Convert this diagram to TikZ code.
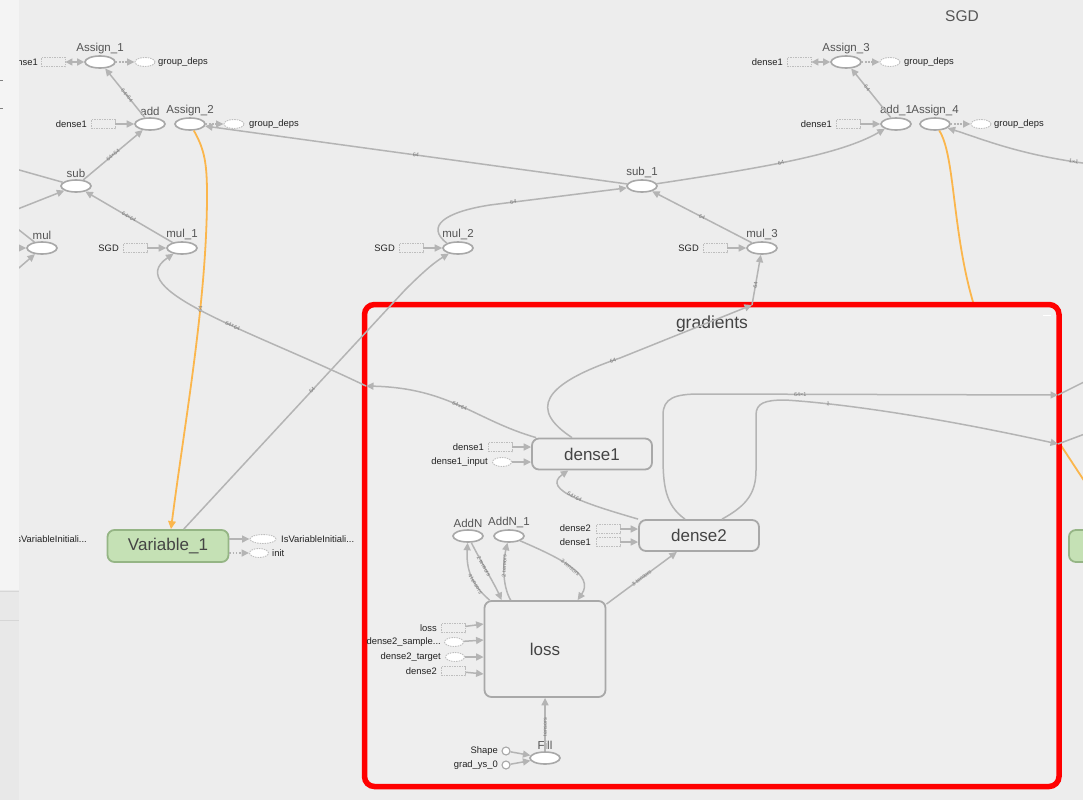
\documentclass[tikz,border=0pt]{standalone}
\usepackage{fontspec}
\setmainfont{Liberation Sans}
\usetikzlibrary{shapes.geometric,arrows.meta}
\definecolor{bg}{HTML}{EDEDED}
\definecolor{gfill}{HTML}{EEEEEE}
\definecolor{ecol}{HTML}{B4B4B4}
\definecolor{ncol}{HTML}{A8A8A8}
\definecolor{dcol}{HTML}{BEBEBE}
\definecolor{orng}{HTML}{FBB64C}
\definecolor{grfill}{HTML}{C5E1B5}
\definecolor{grdraw}{HTML}{95B585}
\definecolor{txt}{HTML}{222222}
\definecolor{lbl}{HTML}{555555}
\definecolor{darktxt}{HTML}{444444}
\definecolor{elabcol}{HTML}{7A7A7A}
\definecolor{redb}{HTML}{FF0000}
\definecolor{leftc}{HTML}{F4F4F4}
\definecolor{left2}{HTML}{E8E8E8}
\definecolor{linec}{HTML}{D6D6D6}
\begin{document}
\begin{tikzpicture}[x=1pt,y=-1pt,
  op/.style={ellipse, draw=ncol, line width=1.6pt, fill=white, minimum width=30pt, minimum height=12pt, inner sep=0pt},
  oplbl/.style={font=\fontsize{11.5}{12}\selectfont, text=lbl, inner sep=1.5pt},
  deprect/.style={rectangle, draw=dcol, dash pattern=on 1.5pt off 1pt, line width=0.9pt, minimum width=24pt, minimum height=9pt, inner sep=0pt},
  depell/.style={ellipse, draw=dcol, dash pattern=on 1.5pt off 1pt, line width=0.9pt, fill=white, minimum width=20pt, minimum height=9pt, inner sep=0pt},
  small/.style={font=\fontsize{9.4}{10}\selectfont, text=txt, inner sep=0pt},
  meta/.style={rectangle, rounded corners=7pt, draw=ncol, line width=1.8pt, fill=gfill, minimum width=120pt, minimum height=31pt, font=\fontsize{17}{18}\selectfont, text=darktxt, inner sep=0pt},
  varnode/.style={meta, fill=grfill, draw=grdraw},
  edg/.style={draw=ecol, line width=1.5pt, -{Triangle[length=7.5pt,width=7pt]}},
  plain/.style={draw=ecol, line width=1.5pt},
  ctl/.style={edg, dash pattern=on 1.6pt off 1.6pt},
  oedg/.style={draw=orng, line width=1.8pt, -{Triangle[length=8pt,width=7.5pt]}},
  elab/.style={font=\fontsize{5.5}{6}\selectfont, text=elabcol, sloped, inner sep=0pt},
  circ/.style={circle, draw=ncol, fill=white, minimum size=8pt, inner sep=0pt, line width=1.1pt}
]
\clip (0,0) rectangle (1083,800);
\fill[bg] (0,0) rectangle (1083,800);

% ---------- orange edge from Assign_4 (passes behind gradients) ----------
\node[op, label={[oplbl]90:Assign\_4}] (as4) at (935,124) {};
\coordinate (offR) at (1100,505);
\draw[draw=orng, line width=1.8pt] (as4) .. controls (955,155) and (952,230) .. (973,302) -- (1062,447) -- (offR);

% right green node (cut off)
\node[varnode, minimum width=60pt, minimum height=32pt, anchor=west] (var2) at (1068,546) {};

% ---------- gradients group ----------
\node[draw=redb, line width=5.5pt, rounded corners=10pt, fill=gfill, minimum width=694.5pt, minimum height=482pt, inner sep=0pt, outer sep=0pt, anchor=north west] (grad) at (364.5,304.5) {};
\draw[white, line width=1.8pt] (1043,315.5) -- (1051,315.5);
\node[font=\fontsize{17.5}{18}\selectfont, text=darktxt] (gradt) at (712,324) {gradients};
\coordinate (gL) at (366,386);
\coordinate (gT) at (752,305);
\coordinate (gR1) at (1058,395);
\coordinate (gR2) at (1058,444);
\coordinate (R1) at (1090,379);
\coordinate (R2) at (1090,432);

% ---------- top left ----------
\node[op, label={[oplbl]90:Assign\_1}] (as1) at (100,62) {};
\node[deprect] (as1d) at (53,62) {};
\node[small, anchor=east] (as1dt) at (38,62) {dense1};
\node[depell] (as1g) at (145,62) {};
\node[small, anchor=west] (as1gt) at (158,62) {group\_deps};
\draw[edg, {Triangle[length=7pt,width=7pt]}-{Triangle[length=7pt,width=7pt]}] (as1d) -- (as1);
\draw[ctl] (as1) -- (as1g);

\node[op, label={[oplbl]90:add}] (add) at (150,124) {};
\node[deprect] (addd) at (103,124) {};
\node[small, anchor=east] (adddt) at (87,124) {dense1};
\draw[edg] (addd) -- (add);
\node[op, label={[oplbl]90:Assign\_2}] (as2) at (190,124) {};
\node[depell] (as2g) at (234,124) {};
\node[small, anchor=west] (as2gt) at (249,124) {group\_deps};
\draw[ctl] (as2) -- (as2g);

\node[op, label={[oplbl]90:sub}] (sub) at (76,186) {};
\node[op, label={[oplbl]90:mul}] (mul) at (42,248) {};
\node[op, label={[oplbl]90:mul\_1}] (mul1) at (182,248) {};
\node[deprect] (mul1d) at (135,248) {};
\node[small, anchor=east] (mul1dt) at (119,248) {SGD};
\draw[edg] (mul1d) -- (mul1);

\coordinate (L1) at (5,166);
\coordinate (L2) at (5,214);
\coordinate (L3) at (5,248);
\coordinate (L4) at (5,219);
\coordinate (L5) at (5,280);
\draw[plain] (L1) -- (sub);
\draw[edg] (L2) -- (sub);
\draw[edg] (L3) -- (mul);
\draw[plain] (L4) -- (mul);
\draw[edg] (L5) -- (mul);

\draw[edg] (add) -- node[elab,pos=0.45]{64×64} (as1);
\draw[edg] (sub) -- node[elab]{64×64} (add);
\draw[edg] (mul1) -- node[elab]{64×64} (sub);

% ---------- top right ----------
\node[font=\fontsize{15.5}{16}\selectfont, text=lbl] (sgdt) at (962,16) {SGD};
\node[op, label={[oplbl]90:Assign\_3}] (as3) at (846,62) {};
\node[deprect] (as3d) at (799,62) {};
\node[small, anchor=east] (as3dt) at (783,62) {dense1};
\node[depell] (as3g) at (890,62) {};
\node[small, anchor=west] (as3gt) at (904,62) {group\_deps};
\draw[edg, {Triangle[length=7pt,width=7pt]}-{Triangle[length=7pt,width=7pt]}] (as3d) -- (as3);
\draw[ctl] (as3) -- (as3g);

\node[op, label={[oplbl]90:add\_1}] (add1) at (896,124) {};
\node[deprect] (add1d) at (848,124) {};
\node[small, anchor=east] (add1dt) at (832,124) {dense1};
\draw[edg] (add1d) -- (add1);
\node[depell] (as4g) at (981,124) {};
\node[small, anchor=west] (as4gt) at (994,124) {group\_deps};
\draw[ctl] (as4) -- (as4g);
\draw[edg] (add1) -- node[elab,pos=0.6]{64} (as3);
\coordinate (R3) at (1090,164);
\draw[edg] (R3) .. controls (1020,155) and (985,140) .. node[elab,pos=0.08]{1×1} (as4);

% ---------- middle ----------
\node[op, label={[oplbl]90:mul\_2}] (mul2) at (458,248) {};
\node[deprect] (mul2d) at (411,248) {};
\node[small, anchor=east] (mul2dt) at (395,248) {SGD};
\draw[edg] (mul2d) -- (mul2);
\node[op, label={[oplbl]90:sub\_1}] (sub1) at (642,186) {};
\node[op, label={[oplbl]90:mul\_3}] (mul3) at (762,248) {};
\node[deprect] (mul3d) at (715,248) {};
\node[small, anchor=east] (mul3dt) at (699,248) {SGD};
\draw[edg] (mul3d) -- (mul3);

\draw[edg] (sub1) -- node[elab]{64} (as2);
\draw[edg] (mul2.north west) .. controls (425,226) and (445,212) .. (490,205) -- node[elab,pos=0.17]{64} (sub1);
\draw[edg] (mul3) -- node[elab]{64} (sub1);
\draw[edg] (sub1) .. controls (760,168) and (840,155) .. node[elab,pos=0.45]{64} (add1.south west);

% ---------- Variable_1 ----------
\node[varnode, minimum width=121pt, minimum height=32pt] (var1) at (168,546) {Variable\_1};
\node[depell, minimum width=26pt] (var1a) at (263,539) {};
\node[small, anchor=west] (var1at) at (281,539) {IsVariableInitiali...};
\node[depell, minimum width=19pt] (var1b) at (259,553) {};
\node[small, anchor=west] (var1bt) at (272,553) {init};
\draw[edg] (var1a -| var1.east) -- (var1a);
\draw[ctl] (var1b -| var1.east) -- (var1b);
\node[small, anchor=east] (var1l) at (87,539) {IsVariableInitiali...};

\draw[oedg] (as2) .. controls (205,150) and (207,165) .. (207,195) .. controls (207,300) and (185,420) .. node[elab,pos=0.35]{64} (var1.80);

% outside parts of gradients edges
\draw[edg] (gL) .. controls (250,330) and (120,290) .. node[elab,pos=0.4]{64×64} (mul1);
\draw[edg] (gT) -- node[elab,pos=0.4]{64} (mul3);
\draw[plain] (gR1) -- (R1);
\draw[plain] (gR2) -- (R2);

% Variable_1 -> mul_2
\draw[edg] (var1.47) -- node[elab,pos=0.58]{64} (405,290) .. controls (425,270) and (435,262) .. (mul2);

% ---------- inside gradients ----------
\node[meta] (d1) at (592,454) {dense1};
\node[deprect] (d1a) at (500,447) {};
\node[small, anchor=east] (d1at) at (484,447) {dense1};
\node[depell, minimum width=19pt] (d1b) at (502,462) {};
\node[small, anchor=east] (d1bt) at (488,462) {dense1\_input};
\draw[edg] (d1a) -- (d1a -| d1.west);
\draw[edg] (d1b) -- (d1b -| d1.west);

\node[meta] (d2) at (699,535.5) {dense2};
\node[deprect] (d2a) at (608,529) {};
\node[small, anchor=east] (d2at) at (591,528) {dense2};
\node[deprect] (d2b) at (608,542) {};
\node[small, anchor=east] (d2bt) at (591,542) {dense1};
\draw[edg] (d2a) -- (d2a -| d2.west);
\draw[edg] (d2b) -- (d2b -| d2.west);

\node[op, label={[oplbl]90:AddN}] (addn) at (468,536) {};
\node[op, label={[oplbl]90:AddN\_1}] (addn1) at (509,536) {};

\node[meta, minimum width=121pt, minimum height=96pt] (loss) at (545,649) {loss};
\node[deprect] (la) at (453,628) {};
\node[small, anchor=east] (lat) at (437,628) {loss};
\node[depell, minimum width=19pt] (lb) at (454,642) {};
\node[small, anchor=east] (lbt) at (441,642) {dense2\_sample...};
\node[depell, minimum width=19pt] (lc) at (455,657) {};
\node[small, anchor=east] (lct) at (441,657) {dense2\_target};
\node[deprect] (ld) at (453,671) {};
\node[small, anchor=east] (ldt) at (437,671) {dense2};
\draw[edg] (la) -- (loss.west |- 0,624);
\draw[edg] (lb) -- (loss.west |- 0,640);
\draw[edg] (lc) -- (loss.west |- 0,657);
\draw[edg] (ld) -- (loss.west |- 0,674);

\node[op, label={[oplbl]90:Fill}] (fill) at (545,758) {};
\node[circ] (shp) at (506,751) {};
\node[small, anchor=east] (shpt) at (498,751) {Shape};
\node[circ] (gys) at (506,765) {};
\node[small, anchor=east] (gyst) at (498,765) {grad\_ys\_0};
\draw[edg] (shp) -- (fill);
\draw[edg] (gys) -- (fill);
\draw[edg] (fill) -- node[elab,pos=0.45]{tensors} (loss);

\draw[edg] ([xshift=6pt]loss.north west) .. controls (472,585) and (466,570) .. node[elab,pos=0.35]{4 tensors} (addn);
\draw[edg] (addn) .. controls (480,560) and (495,585) .. node[elab,pos=0.4]{2 tensors} ([xshift=18pt]loss.north west);
\draw[edg] ([xshift=27pt]loss.north west) .. controls (502,585) and (503,562) .. node[elab,pos=0.62]{2 tensors} (addn1);
\draw[edg] (addn1) .. controls (560,558) and (595,575) .. node[elab]{3 tensors} ([xshift=94pt]loss.north west);
\draw[edg] ([yshift=-4pt]loss.north east) -- node[elab]{3 tensors} (d2);

\draw[edg] (d2.north west) .. controls (590,505) and (540,490) .. node[elab]{64×64} (d1);
\draw[edg] ([xshift=5pt]d1.north west) .. controls (475,420) and (450,388) .. node[elab]{64×64} (gL);
\draw[edg] ([xshift=-20pt]d1.north) .. controls (530,410) and (540,385) .. node[elab,pos=0.97]{64} (620,358) -- (gT);
\draw[edg] ([xshift=-14pt]d2.north) .. controls (665,505) and (663,485) .. (663,455) -- (663,415) .. controls (663,398) and (675,394) .. (700,394) -- node[elab,pos=0.28]{64×1} (gR1);
\draw[edg] ([xshift=23pt]d2.north) .. controls (748,505) and (756,492) .. (756,470) -- (756,415) .. controls (756,403) and (765,400) .. (785,400) .. controls (850,404) and (950,420) .. node[elab,pos=0.2]{1} (gR2);

% ---------- left panel ----------
\fill[leftc] (0,0) rectangle (19,590);
\fill[left2] (0,590) rectangle (19,800);
\draw[linec, line width=1pt] (0,591) -- (19,591);
\draw[linec, line width=1pt] (0,620) -- (19,620);
\draw[gray, line width=0.8pt] (0,80) -- (3,80);
\draw[gray, line width=0.8pt] (0,108) -- (3,108);
\end{tikzpicture}
\end{document}
